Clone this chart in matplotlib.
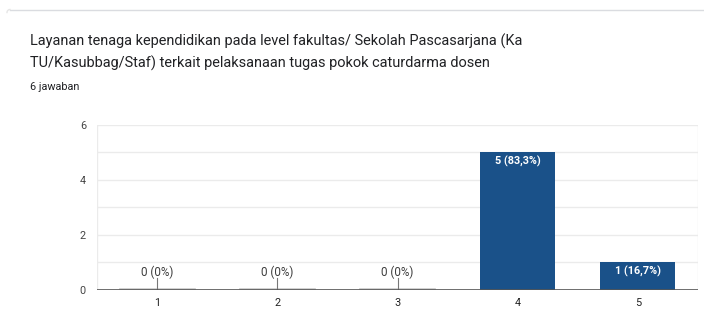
import matplotlib
matplotlib.use("Agg")
import matplotlib.pyplot as plt
from matplotlib.lines import Line2D
import numpy as np

title_lines = [
    "Layanan tenaga kependidikan pada level fakultas/ Sekolah Pascasarjana (Ka",
    "TU/Kasubbag/Staf) terkait pelaksanaan tugas pokok caturdarma dosen",
]
subtitle = "6 jawaban"
categories = ["1", "2", "3", "4", "5"]
counts = [0, 0, 0, 5, 1]
percent_labels = ["0%", "0%", "0%", "83,3%", "16,7%"]
y_ticks = [0, 2, 4, 6]

W, H = 704, 320
fig = plt.figure(figsize=(W / 100, H / 100), dpi=100)
fig.patch.set_facecolor("white")
plt.rcParams["font.family"] = ["Roboto", "DejaVu Sans"]

def px(x, y):
    return x / W, 1 - y / H

# card top border with rounded left corner
fig.add_artist(Line2D([10 / W, 1.0], [1 - 9.5 / H] * 2, color="#dadce0", lw=1.0,
                      transform=fig.transFigure))
t = np.linspace(0, np.pi / 2, 10)
cx, cy, r = 10, 12.5, 3
fig.add_artist(Line2D((cx - r * np.cos(t)) / W, 1 - (cy - r * np.sin(t)) / H,
                      color="#e6e6e6", lw=1.0, transform=fig.transFigure))

# title and response count
fig.text(*px(30, 41), title_lines[0], fontsize=10.45, color="#202124", va="center", ha="left")
fig.text(*px(30, 63), title_lines[1], fontsize=10.45, color="#202124", va="center", ha="left")
fig.text(*px(30, 87), subtitle, fontsize=7.8, color="#202124", va="center", ha="left")

left, right, top, bottom = 97, 698, 125, 289.5
ax = fig.add_axes([left / W, 1 - bottom / H, (right - left) / W, (bottom - top) / H])
ax.set_xlim(-0.5, len(categories) - 0.5)
ax.set_ylim(0, 6)

x = np.arange(len(categories))
bar_w = 0.625
bar_color = "#1a5189"

for yv in range(1, 7):
    ax.axhline(yv, color="#ebebeb", lw=1.0, zorder=0)
ax.axvline(-0.5, color="#ebebeb", lw=1.0, zorder=0)
ax.axvline(len(categories) - 0.5, color="#ebebeb", lw=1.0, zorder=0)

ax.bar(x, counts, width=bar_w, color=bar_color, zorder=2)

for xi, c, p in zip(x, counts, percent_labels):
    label = f"{c} ({p})"
    if c == 0:
        ax.plot([xi - bar_w / 2, xi + bar_w / 2], [0.02, 0.02], color="#c8c8c8", lw=1.2, zorder=3)
        ax.plot([xi, xi], [0, 0.42], color="#777777", lw=0.8, zorder=3)
        ax.text(xi, 0.38, label, ha="center", va="bottom", fontsize=8.4, color="#3c3c3c")
    else:
        ax.text(xi, c - 0.12, label, ha="center", va="top", fontsize=7.8,
                color="white", fontweight="bold")

ax.axhline(0, color="#555555", lw=1.2, zorder=4)

for s in ax.spines.values():
    s.set_visible(False)
ax.set_yticks(y_ticks)
ax.set_yticklabels([str(v) for v in y_ticks], fontsize=7.8, color="#444444")
ax.set_xticks(x)
ax.set_xticklabels(categories, fontsize=7.8, color="#222222")
ax.tick_params(length=0)
ax.tick_params(axis="y", pad=8)
ax.tick_params(axis="x", pad=6)

fig.savefig("out.png", dpi=100, facecolor="white")
